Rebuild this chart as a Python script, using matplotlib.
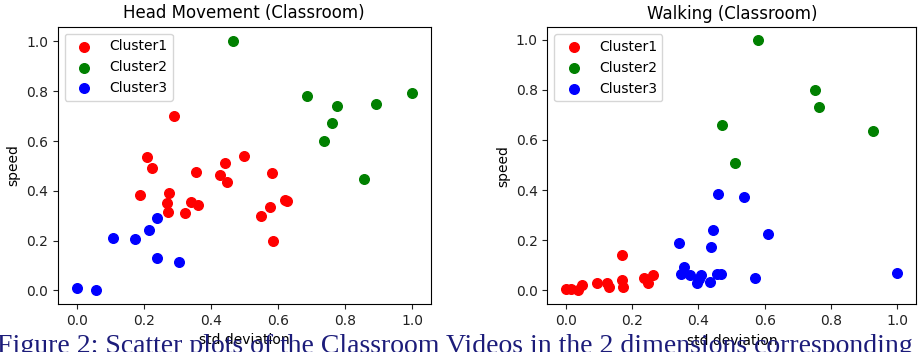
import matplotlib
matplotlib.use('Agg')
from matplotlib import pyplot as plt

# Head Movement (Classroom)
head_c1_x = [0.290, 0.210, 0.224, 0.188, 0.276, 0.270, 0.273, 0.324, 0.342, 0.361,
             0.355, 0.428, 0.443, 0.449, 0.500, 0.582, 0.548, 0.576, 0.622, 0.628, 0.584]
head_c1_y = [0.701, 0.535, 0.490, 0.384, 0.392, 0.351, 0.313, 0.311, 0.356, 0.344,
             0.474, 0.463, 0.510, 0.436, 0.539, 0.470, 0.297, 0.335, 0.365, 0.358, 0.199]
head_c2_x = [0.467, 0.687, 0.776, 0.760, 0.736, 0.893, 1.000, 0.857]
head_c2_y = [1.000, 0.779, 0.739, 0.673, 0.600, 0.747, 0.791, 0.448]
head_c3_x = [0.000, 0.058, 0.109, 0.173, 0.215, 0.239, 0.239, 0.306]
head_c3_y = [0.008, 0.000, 0.212, 0.207, 0.241, 0.289, 0.130, 0.114]

# Walking (Classroom)
walk_c1_x = [0.000, 0.016, 0.036, 0.049, 0.095, 0.125, 0.131, 0.170, 0.170, 0.174,
             0.236, 0.249, 0.262]
walk_c1_y = [0.003, 0.003, 0.000, 0.020, 0.027, 0.027, 0.013, 0.140, 0.040, 0.011,
             0.047, 0.027, 0.059]
walk_c2_x = [0.579, 0.752, 0.765, 0.472, 0.928, 0.511]
walk_c2_y = [1.000, 0.798, 0.733, 0.660, 0.636, 0.509]
walk_c3_x = [0.459, 0.538, 0.444, 0.609, 0.342, 0.439, 0.358, 0.348, 0.376, 0.408,
             0.401, 0.395, 0.435, 0.455, 0.467, 0.572, 1.000]
walk_c3_y = [0.383, 0.371, 0.242, 0.226, 0.189, 0.173, 0.092, 0.064, 0.061, 0.059,
             0.043, 0.028, 0.031, 0.066, 0.066, 0.048, 0.068]

labels = ['Cluster1', 'Cluster2', 'Cluster3']
colors = ['red', 'green', 'blue']
ticks = [0.0, 0.2, 0.4, 0.6, 0.8, 1.0]

fig = plt.figure(figsize=(9.2, 3.52), dpi=100)
ax1 = fig.add_axes([0.0627, 0.136, 0.4053, 0.788])
ax2 = fig.add_axes([0.595, 0.1355, 0.401, 0.7865])

panels = [
    (ax1, 'Head Movement (Classroom)',
     [(head_c1_x, head_c1_y), (head_c2_x, head_c2_y), (head_c3_x, head_c3_y)],
     (-0.0566, 1.0548), (-0.055, 1.059)),
    (ax2, 'Walking (Classroom)',
     [(walk_c1_x, walk_c1_y), (walk_c2_x, walk_c2_y), (walk_c3_x, walk_c3_y)],
     (-0.0554, 1.0572), (-0.057, 1.050)),
]

for ax, title, series, xl, yl in panels:
    for (xs, ys), lab, col in zip(series, labels, colors):
        ax.scatter(xs, ys, s=48, c=col, label=lab)
    ax.set_xlim(*xl)
    ax.set_ylim(*yl)
    ax.set_xticks(ticks)
    ax.set_yticks(ticks)
    ax.set_title(title, fontsize=12)
    ax.set_xlabel('std deviation', fontsize=10)
    ax.set_ylabel('speed', fontsize=10)
    ax.tick_params(labelsize=10, colors='#222222')
    ax.legend(loc='upper left', scatterpoints=1, fontsize=10)

# paper caption underneath (cut off by the image edge, as in the source)
fig.text(-0.003, 0.051, 'Figure 2: Scatter plots of the Classroom Videos in the 2 dimensions corresponding to',
         family='Liberation Serif', fontsize=20, color='#1c1c7a', va='top', ha='left')

fig.savefig('out.png', dpi=100)
